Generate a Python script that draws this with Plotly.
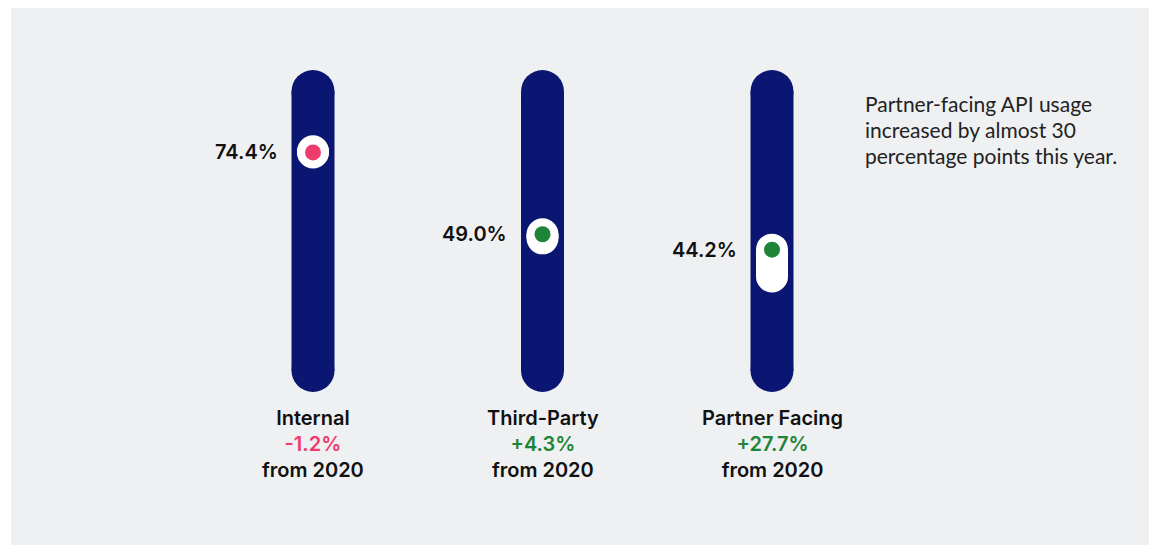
import plotly.graph_objects as go

categories = ["Internal", "Third-Party", "Partner Facing"]
values_2021 = [74.4, 49.0, 44.2]
change_from_2020 = [-1.2, 4.3, 27.7]
note_lines = ["Partner-facing API usage", "increased by almost 30", "percentage points this year."]

NAVY = "#0B1572"
RED = "#EE3B6C"
GREEN = "#1E8437"
BG = "#EFF0F2"
TEXT = "#111111"
FONT = "Inter"

# page body adds an 8px offset; figure placed accordingly
OFF = 8
W, H = 1149, 537
ml, mr, mt, mb = 3, 4, 0, 0
PX_PER_UNIT = 3.22
TRACK_TOP_PX = 70 - OFF          # pixel of 100% inside figure
Y_TOP = 100 + (TRACK_TOP_PX - mt) / PX_PER_UNIT
Y_BOT = Y_TOP - (H - mt - mb) / PX_PER_UNIT
X_PX = 229.5
X0_PX = 313 - OFF
X_LEFT = -(X0_PX - ml) / X_PX
X_RIGHT = X_LEFT + (W - ml - mr) / X_PX

BAR_W = 43
PILL_W = 32
DOT = 16
PILL_SCALE = 0.3


def y_of_screen(py):
    return 100 - (py - 70) / PX_PER_UNIT


fig = go.Figure()
r_units = (BAR_W / 2) / PX_PER_UNIT

for i, (cat, v, ch) in enumerate(zip(categories, values_2021, change_from_2020)):
    fig.add_trace(go.Scatter(x=[i, i], y=[0 + r_units, 100 - r_units], mode="lines+markers",
                             line=dict(color=NAVY, width=BAR_W),
                             marker=dict(color=NAVY, size=BAR_W, line=dict(width=0)),
                             hoverinfo="skip", showlegend=False))
    end = v - ch * PILL_SCALE
    fig.add_trace(go.Scatter(x=[i, i], y=[v, end], mode="lines+markers",
                             line=dict(color="white", width=PILL_W),
                             marker=dict(color="white", size=PILL_W, line=dict(width=0)),
                             hoverinfo="skip", showlegend=False))
    col = GREEN if ch >= 0 else RED
    fig.add_trace(go.Scatter(x=[i], y=[v], mode="markers",
                             marker=dict(color=col, size=DOT, line=dict(width=0)),
                             hoverinfo="skip", showlegend=False))
    fig.add_annotation(x=i, y=v, text=f"{v:.1f}%", showarrow=False, xanchor="right",
                       yanchor="middle", xshift=-(BAR_W / 2 + 12),
                       font=dict(family=FONT, size=20, color=TEXT, weight=600))
    sign = "+" if ch >= 0 else ""
    fig.add_annotation(x=i, y=0, text=(f"{cat}<br><span style='color:{col}'>{sign}{ch:.1f}%</span>"
                                       f"<br>from 2020"),
                       showarrow=False, xanchor="center", yanchor="top", yshift=-12,
                       font=dict(family=FONT, size=20, color=TEXT, weight=600))

note_x = (863 - 313) / X_PX
for k, line in enumerate(note_lines):
    fig.add_annotation(x=note_x, y=y_of_screen(103 + 26.3 * k), text=line, showarrow=False,
                       xanchor="left", yanchor="middle", align="left",
                       font=dict(family="Lato", size=21, color="#222222"))

fig.update_layout(
    width=W, height=H,
    margin=dict(l=ml, r=mr, t=mt, b=mb, pad=0),
    paper_bgcolor="white", plot_bgcolor=BG,
    xaxis=dict(range=[X_LEFT, X_RIGHT], visible=False, fixedrange=True),
    yaxis=dict(range=[Y_BOT, Y_TOP], visible=False, fixedrange=True),
    showlegend=False,
)
fig.write_html("out.html", config={"displayModeBar": False})
